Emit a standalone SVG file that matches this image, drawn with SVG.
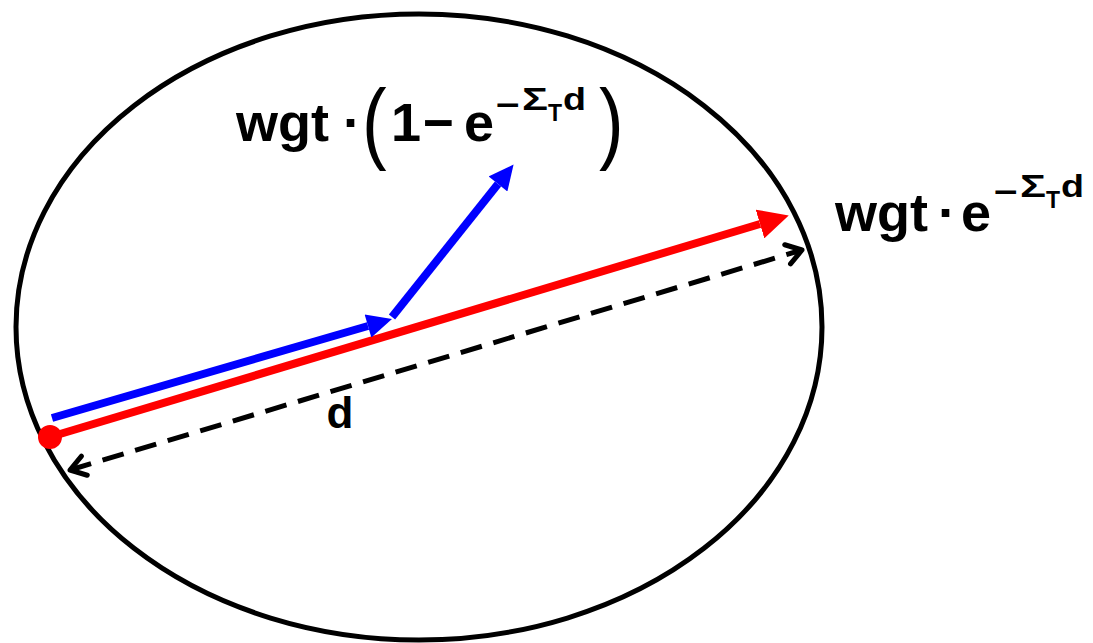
<svg xmlns="http://www.w3.org/2000/svg" width="1093" height="643" viewBox="0 0 1093 643">
<style>
.t{font-family:"Liberation Sans",Arial,sans-serif;font-weight:bold;fill:#000}
.big{font-size:54px}
.sup{font-size:32px}
.sub{font-size:23px}
.par{font-family:"Liberation Sans",Arial,sans-serif;font-weight:normal;font-size:74px;fill:#000}
</style>
<defs>
<marker id="ahRed" markerUnits="userSpaceOnUse" markerWidth="30" markerHeight="30" refX="0" refY="13" orient="auto" viewBox="0 0 26 26">
<path d="M0,0 L26,13 L0,26 Z" fill="#ff0000"/>
</marker>
<marker id="ahBlue" markerUnits="userSpaceOnUse" markerWidth="26" markerHeight="24" refX="0" refY="12" orient="auto" viewBox="0 0 25 24">
<path d="M0,0 L25,12 L0,24 Z" fill="#0000ff"/>
</marker>
<marker id="chev" markerUnits="userSpaceOnUse" markerWidth="26" markerHeight="26" refX="20" refY="13" orient="auto-start-reverse" viewBox="0 0 26 26">
<path d="M5,3 L20,13 L5,23" fill="none" stroke="#000" stroke-width="5" stroke-linecap="round" stroke-linejoin="round"/>
</marker>
</defs>
<g id="boundary">
<ellipse cx="419" cy="327" rx="403" ry="313" fill="none" stroke="#000" stroke-width="5"/>
</g>
<g id="connectors">
<line x1="70" y1="470" x2="802" y2="250" stroke="#000" stroke-width="5" stroke-dasharray="22 12" marker-start="url(#chev)" marker-end="url(#chev)"/>
<line x1="50" y1="437" x2="760" y2="224" stroke="#ff0000" stroke-width="8" marker-end="url(#ahRed)"/>
<line x1="52" y1="418" x2="368" y2="326" stroke="#0000ff" stroke-width="8" marker-end="url(#ahBlue)"/>
<line x1="392" y1="317" x2="498" y2="184" stroke="#0000ff" stroke-width="8" marker-end="url(#ahBlue)"/>
</g>
<g id="source">
<circle cx="50" cy="437" r="12" fill="#ff0000"/>
</g>
<g id="label-d">
<text class="t" x="340" y="428" font-size="44" text-anchor="middle">d</text>
</g>
<g id="label-absorbed">
<text class="t big" x="236" y="141">wgt</text>
<text class="t big" x="352" y="141" text-anchor="middle">·</text>
<text class="par" x="362" y="127" transform="scale(1 1.2)">(</text>
<text class="t big" x="391" y="141">1</text>
<text class="t big" x="423" y="141" textLength="31" lengthAdjust="spacingAndGlyphs">−</text>
<text class="t big" x="464" y="141">e</text>
<text class="t sup" x="496" y="116" textLength="24" lengthAdjust="spacingAndGlyphs">−</text>
<text class="t sup" x="522" y="110" textLength="26" lengthAdjust="spacingAndGlyphs">Σ</text>
<text class="t sub" x="548" y="121">T</text>
<text class="t sup" x="563" y="110" textLength="23" lengthAdjust="spacingAndGlyphs">d</text>
<text class="par" x="599" y="127" transform="scale(1 1.2)">)</text>
</g>
<g id="label-transmitted">
<text class="t big" x="835" y="231">wgt</text>
<text class="t big" x="947" y="231" text-anchor="middle">·</text>
<text class="t big" x="961" y="231">e</text>
<text class="t sup" x="994" y="203" textLength="24" lengthAdjust="spacingAndGlyphs">−</text>
<text class="t sup" x="1020" y="197" textLength="26" lengthAdjust="spacingAndGlyphs">Σ</text>
<text class="t sub" x="1046" y="208">T</text>
<text class="t sup" x="1061" y="197" textLength="23" lengthAdjust="spacingAndGlyphs">d</text>
</g>
</svg>
